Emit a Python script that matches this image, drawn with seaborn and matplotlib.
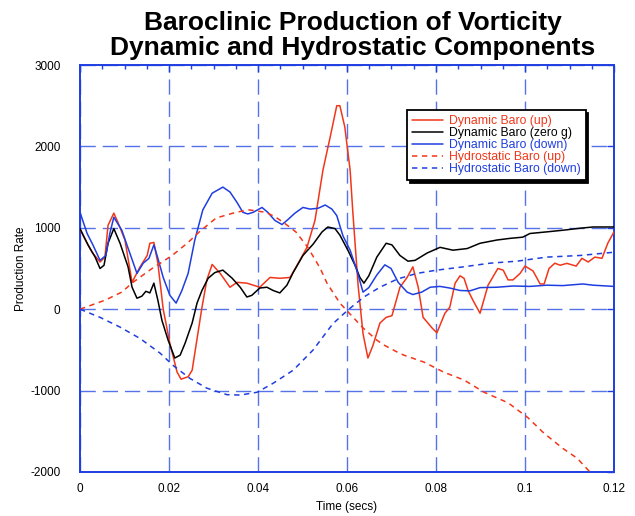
import numpy as np
import pandas as pd
import matplotlib
matplotlib.use("Agg")
import matplotlib.pyplot as plt
from matplotlib.ticker import MultipleLocator, FixedLocator
import seaborn as sns

# Dynamic Baro (up)
dyn_up_t = [0.0, 0.0016, 0.0027, 0.0045, 0.0056, 0.0063, 0.0076, 0.0085, 0.0101, 0.0117,
            0.0135, 0.0151, 0.0157, 0.0166, 0.0175, 0.0187, 0.0202, 0.0218, 0.0227, 0.0243,
            0.0252, 0.0274, 0.0285, 0.0297, 0.0315, 0.0337, 0.0353, 0.0375, 0.0404, 0.0427,
            0.0449, 0.0472, 0.0494, 0.0510, 0.0528, 0.0546, 0.0562, 0.0577, 0.0584, 0.0595,
            0.0607, 0.0613, 0.0625, 0.0636, 0.0647, 0.0658, 0.0674, 0.0688, 0.0701, 0.0719,
            0.0735, 0.0748, 0.0760, 0.0771, 0.0791, 0.0802, 0.0820, 0.0831, 0.0843, 0.0854,
            0.0863, 0.0872, 0.0883, 0.0899, 0.0917, 0.0939, 0.0951, 0.0962, 0.0973, 0.0989,
            0.1000, 0.1018, 0.1034, 0.1043, 0.1054, 0.1067, 0.1079, 0.1094, 0.1115, 0.1128,
            0.1142, 0.1157, 0.1173, 0.1186, 0.1200]
dyn_up = [980, 810, 700, 580, 640, 1030, 1180, 1070, 850, 330,
          520, 660, 810, 820, 565, 0, -420, -770, -860, -830,
          -750, 20, 360, 550, 440, 270, 330, 320, 270, 390,
          380, 390, 600, 760, 1090, 1710, 2110, 2500, 2500, 2240,
          1710, 1200, 290, -300, -600, -450, -170, -100, -80, 270,
          390, 520, 270, -100, -230, -290, -50, 25, 320, 410,
          380, 230, 110, -50, 295, 500, 480, 360, 360, 440,
          530, 470, 310, 310, 500, 565, 540, 563, 530, 625,
          580, 640, 625, 810, 950]

# Dynamic Baro (zero g)
dyn_zero_t = [0.0, 0.0018, 0.0034, 0.0045, 0.0054, 0.0063, 0.0076, 0.0090, 0.0108, 0.0117,
              0.0128, 0.0139, 0.0148, 0.0157, 0.0166, 0.0175, 0.0184, 0.0198, 0.0213, 0.0225,
              0.0236, 0.0252, 0.0263, 0.0274, 0.0288, 0.0303, 0.0321, 0.0342, 0.0360, 0.0375,
              0.0386, 0.0404, 0.0420, 0.0434, 0.0449, 0.0465, 0.0479, 0.0501, 0.0524, 0.0544,
              0.0557, 0.0573, 0.0584, 0.0602, 0.0618, 0.0629, 0.0638, 0.0649, 0.0667, 0.0688,
              0.0701, 0.0719, 0.0737, 0.0753, 0.0780, 0.0809, 0.0838, 0.0870, 0.0899, 0.0937,
              0.0966, 0.0995, 0.1011, 0.1049, 0.1085, 0.1124, 0.1153, 0.1200]
dyn_zero = [990, 790, 640, 500, 540, 810, 990, 810, 520, 270,
            135, 160, 220, 200, 320, 110, -135, -380, -600, -565,
            -420, -170, 75, 230, 380, 450, 480, 380, 270, 150,
            170, 260, 270, 230, 200, 295, 450, 660, 800, 950,
            1010, 990, 910, 725, 540, 390, 320, 410, 640, 810,
            790, 660, 590, 600, 690, 760, 725, 745, 810, 850,
            870, 885, 930, 950, 970, 995, 1010, 1010]

# Dynamic Baro (down)
dyn_down_t = [0.0, 0.0016, 0.0029, 0.0045, 0.0058, 0.0067, 0.0076, 0.0094, 0.0108, 0.0128,
              0.0142, 0.0155, 0.0166, 0.0175, 0.0187, 0.0202, 0.0216, 0.0229, 0.0243, 0.0258,
              0.0276, 0.0297, 0.0321, 0.0337, 0.0353, 0.0366, 0.0377, 0.0389, 0.0409, 0.0422,
              0.0438, 0.0454, 0.0467, 0.0483, 0.0501, 0.0517, 0.0535, 0.0551, 0.0566, 0.0577,
              0.0591, 0.0607, 0.0622, 0.0636, 0.0649, 0.0667, 0.0685, 0.0699, 0.0715, 0.0735,
              0.0748, 0.0768, 0.0787, 0.0809, 0.0831, 0.0854, 0.0876, 0.0899, 0.0937, 0.0973,
              0.1011, 0.1049, 0.1085, 0.1130, 0.1153, 0.1200]
dyn_down = [1190, 930, 790, 600, 660, 930, 1130, 970, 750, 440,
            565, 625, 790, 625, 390, 170, 75, 230, 440, 850,
            1220, 1425, 1500, 1440, 1310, 1190, 1170, 1190, 1250, 1190,
            1090, 1040, 1100, 1180, 1250, 1230, 1240, 1280, 1230, 1150,
            900, 725, 480, 210, 265, 420, 545, 500, 330, 210,
            180, 210, 270, 280, 260, 230, 225, 265, 270, 285,
            280, 295, 290, 310, 295, 280]

# Hydrostatic Baro (up)
hyd_up_t = [0.0, 0.0056, 0.0094, 0.0119, 0.0162, 0.0207, 0.0243, 0.0270, 0.0306, 0.0350,
            0.0380, 0.0418, 0.0440, 0.0460, 0.0485, 0.0512, 0.0540, 0.0555, 0.0584, 0.0607,
            0.0636, 0.0667, 0.0683, 0.0714, 0.0728, 0.0773, 0.0818, 0.0863, 0.0908, 0.0962,
            0.1006, 0.1042, 0.1085, 0.1117, 0.1146]
hyd_up = [0, 110, 210, 330, 500, 660, 820, 960, 1120, 1190,
          1220, 1190, 1130, 1055, 950, 760, 500, 320, 75, -60,
          -230, -380, -440, -530, -565, -650, -775, -870, -1020, -1150,
          -1330, -1520, -1710, -1830, -2000]

# Hydrostatic Baro (down)
hyd_down_t = [0.0, 0.0045, 0.0090, 0.0135, 0.0180, 0.0209, 0.0247, 0.0285, 0.0330, 0.0360,
              0.0398, 0.0434, 0.0479, 0.0524, 0.0568, 0.0602, 0.0638, 0.0674, 0.0713, 0.0757,
              0.0802, 0.0861, 0.0921, 0.0982, 0.1049, 0.1124, 0.1200]
hyd_down = [0, -100, -220, -360, -540, -690, -850, -970, -1050, -1055,
            -1020, -910, -750, -500, -180, -10, 150, 270, 370, 440,
            480, 520, 565, 590, 640, 660, 700]

labels = ["Dynamic Baro (up)", "Dynamic Baro (zero g)", "Dynamic Baro (down)",
          "Hydrostatic Baro (up)", "Hydrostatic Baro (down)"]

RED = "#f2361a"
BLUE = "#1f3ee0"
GRID = "#4363e6"

sns.set_style("white")
plt.rcParams['font.family'] = ['Liberation Sans', 'DejaVu Sans']
plt.rcParams['text.color'] = 'black'
plt.rcParams['axes.labelcolor'] = 'black'
plt.rcParams['axes.unicode_minus'] = False

fig = plt.figure(figsize=(6.35, 5.16), dpi=100)
ax = fig.add_axes([80 / 635, 44 / 516, 534 / 635, 407 / 516])

series = [
    (dyn_up_t, dyn_up, RED, "-"),
    (dyn_zero_t, dyn_zero, "black", "-"),
    (dyn_down_t, dyn_down, BLUE, "-"),
    (hyd_up_t, hyd_up, RED, (0, (3.5, 3))),
    (hyd_down_t, hyd_down, BLUE, (0, (3.5, 3))),
]
for (t, v, c, ls), lab in zip(series, labels):
    df = pd.DataFrame({"t": t, "v": v})
    sns.lineplot(data=df, x="t", y="v", ax=ax, color=c, linestyle=ls, lw=1.1,
                 label=lab, sort=False, estimator=None, zorder=3)

ax.set_xlim(0, 0.12)
ax.set_ylim(-2000, 3000)
ax.xaxis.set_major_locator(FixedLocator([0, 0.02, 0.04, 0.06, 0.08, 0.1, 0.12]))
ax.set_xticklabels(["0", "0.02", "0.04", "0.06", "0.08", "0.1", "0.12"])
ax.xaxis.set_minor_locator(MultipleLocator(0.005))
ax.yaxis.set_major_locator(MultipleLocator(1000))

ax.grid(True, which="major", color=GRID, linestyle=(0, (11, 5)), lw=1.0, alpha=0.9, zorder=1)
for s in ax.spines.values():
    s.set_color(BLUE)
    s.set_linewidth(1.4)
ax.tick_params(which="both", direction="in", top=True, right=True, color=BLUE,
               labelsize=8.5, labelcolor="black")
ax.tick_params(which="major", length=5, width=1)
ax.tick_params(which="minor", length=3, width=1)
ax.tick_params(axis="x", pad=8)
ax.tick_params(axis="y", pad=14)

ax.set_xlabel("Time (secs)", fontsize=8.5, labelpad=4)
ax.set_ylabel("Production Rate", fontsize=8.5, labelpad=2)

fig.text(0.555, 0.978, "Baroclinic Production of Vorticity\nDynamic and Hydrostatic Components",
         ha="center", va="top", fontsize=19, fontweight="bold", linespacing=1.05,
         color="black")

leg = ax.legend(loc="upper left", bbox_to_anchor=(0.612, 0.889), fontsize=8.8,
                frameon=True, fancybox=False, edgecolor="black",
                shadow={"color": "black", "alpha": 1.0},
                handlelength=2.6, handletextpad=0.45, labelspacing=0.0,
                borderpad=0.4, borderaxespad=0.0, labelcolor="linecolor")
leg.get_frame().set_linewidth(1.3)
leg.get_frame().set_alpha(1.0)
leg.set_zorder(5)

fig.savefig("out.png", dpi=100)
